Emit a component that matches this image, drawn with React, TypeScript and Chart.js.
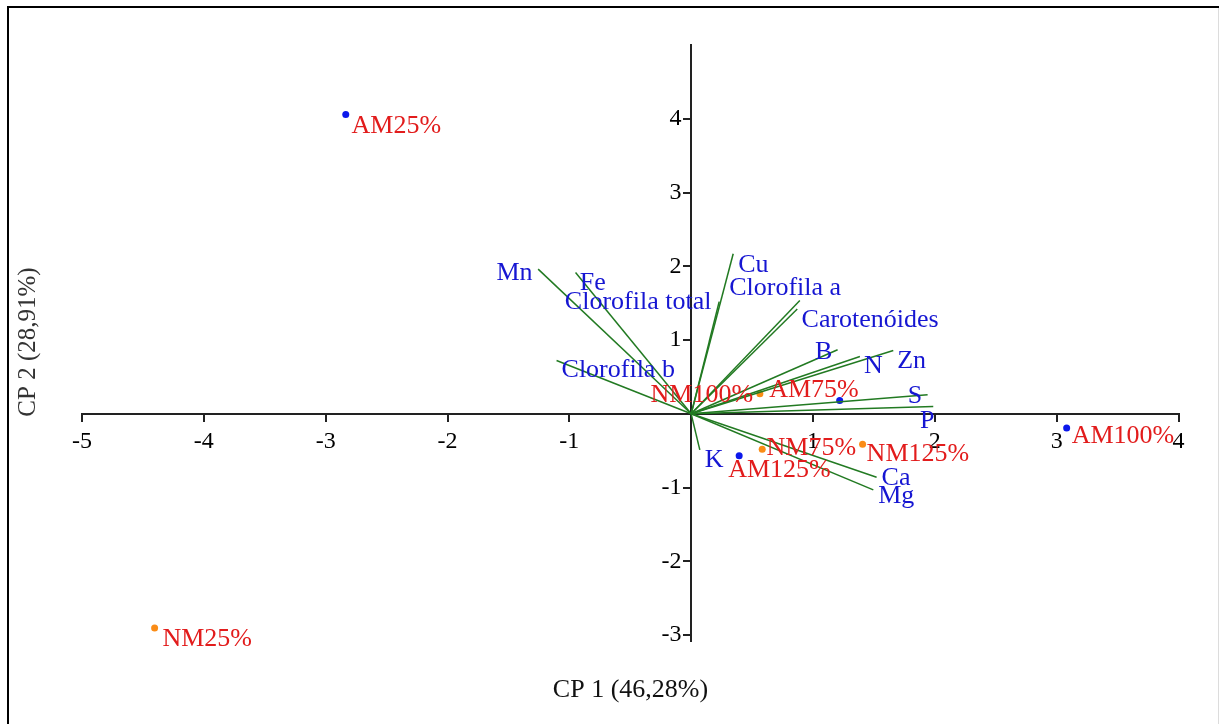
import { useEffect, useRef } from 'react';
import { Chart, registerables } from 'chart.js';

Chart.register(...registerables);

// ---- Data ----
const variables = ['Mn', 'Fe', 'Clorofila total', 'Cu', 'Clorofila a', 'Carotenóides', 'B', 'N', 'Zn', 'S', 'P', 'Clorofila b', 'K', 'Ca', 'Mg'];
const loadingX = [-1.256, -0.949, 0.23, 0.345, 0.892, 0.871, 1.202, 1.385, 1.659, 1.941, 1.987, -1.105, 0.071, 1.522, 1.495];
const loadingY = [1.962, 1.917, 1.52, 2.17, 1.537, 1.42, 0.868, 0.778, 0.859, 0.258, 0.1, 0.723, -0.488, -0.859, -1.031];
const varLabelX = [-1.598, -0.914, -1.037, 0.386, 0.312, 0.906, 1.016, 1.418, 1.691, 1.777, 1.878, -1.064, 0.112, 1.563, 1.535];
const varLabelY = [1.908, 1.772, 1.509, 2.02, 1.704, 1.274, 0.831, 0.641, 0.709, 0.235, -0.104, 0.587, -0.624, -0.872, -1.121];

const treatments = ['AM25%', 'NM25%', 'AM100%', 'NM100%', 'AM75%', 'NM75%', 'NM125%', 'AM125%'];
const groups = ['AM', 'NM', 'AM', 'NM', 'AM', 'NM', 'NM', 'AM'];
const scoreX = [-2.835, -4.404, 3.082, 0.564, 1.219, 0.583, 1.407, 0.394];
const scoreY = [4.057, -2.904, -0.194, 0.271, 0.18, -0.479, -0.411, -0.57];
const trtLabelX = [-2.788, -4.34, 3.123, -0.333, 0.64, 0.619, 1.44, 0.304];
const trtLabelY = [3.895, -3.055, -0.308, 0.258, 0.325, -0.465, -0.542, -0.759];

const xTicks = [-5, -4, -3, -2, -1, 1, 2, 3, 4];
const yTicks = [-3, -2, -1, 1, 2, 3, 4];
const xTitle = 'CP 1 (46,28%)';
const yTitle = 'CP 2 (28,91%)';

const FONT = "'Liberation Serif', 'Times New Roman', serif";
const GREEN = 'rgb(34,122,34)';
const BLUE_TXT = 'rgb(22,22,210)';
const RED_TXT = 'rgb(226,28,28)';
const AXIS = '#222';

const decorPlugin = {
  id: 'decor',
  beforeDraw(chart: any) {
    const ctx = chart.ctx;
    ctx.save();
    ctx.fillStyle = '#fff';
    ctx.fillRect(0, 0, chart.width, chart.height);
    ctx.fillStyle = '#000';
    ctx.fillRect(7, 6, 2, chart.height - 6);
    ctx.fillRect(7, 6, chart.width - 7, 2);
    ctx.fillStyle = '#dcdcdc';
    ctx.fillRect(chart.width - 1, 8, 1, chart.height - 8);
    ctx.restore();
  },
  afterDatasetsDraw(chart: any) {
    const ctx = chart.ctx;
    const xs = chart.scales.x;
    const ys = chart.scales.y;
    ctx.save();
    ctx.textAlign = 'left';
    ctx.textBaseline = 'middle';
    ctx.font = `26px ${FONT}`;
    ctx.fillStyle = BLUE_TXT;
    variables.forEach((v, i) => {
      ctx.fillText(v, xs.getPixelForValue(varLabelX[i]), ys.getPixelForValue(varLabelY[i]));
    });
    ctx.fillStyle = RED_TXT;
    treatments.forEach((t, i) => {
      ctx.fillText(t, xs.getPixelForValue(trtLabelX[i]), ys.getPixelForValue(trtLabelY[i]));
    });
    // axis titles
    ctx.fillStyle = '#111';
    ctx.textAlign = 'center';
    ctx.fillText(xTitle, 630.5, 690);
    ctx.font = `25px ${FONT}`;
    ctx.translate(28, 342);
    ctx.rotate(-Math.PI / 2);
    ctx.fillStyle = '#333';
    ctx.fillText(yTitle, 0, 0);
    ctx.restore();
  },
};

export default function App() {
  const ref = useRef<HTMLCanvasElement>(null);
  useEffect(() => {
    const vectorSets = variables.map((v, i) => ({
      label: v,
      data: [{ x: 0, y: 0 }, { x: loadingX[i], y: loadingY[i] }],
      showLine: true,
      borderColor: GREEN,
      borderWidth: 1.5,
      pointRadius: 0,
      fill: false,
    }));
    const scoreSet = {
      label: 'Tratamentos',
      data: treatments.map((t, i) => ({ x: scoreX[i], y: scoreY[i] })),
      showLine: false,
      pointRadius: 3.5,
      pointBorderWidth: 0,
      pointBackgroundColor: groups.map((g) => (g === 'AM' ? 'rgb(12,24,235)' : 'rgb(250,140,22)')),
      pointBorderColor: groups.map((g) => (g === 'AM' ? 'rgb(12,24,235)' : 'rgb(250,140,22)')),
    };
    const chart = new Chart(ref.current!, {
      type: 'scatter',
      data: { datasets: [...vectorSets, scoreSet] as any },
      plugins: [decorPlugin],
      options: {
        animation: false,
        responsive: false,
        devicePixelRatio: 1,
        layout: { padding: { left: 82, right: 40.5, top: 45, bottom: 83 } },
        plugins: { legend: { display: false }, tooltip: { enabled: false } },
        scales: {
          x: {
            type: 'linear',
            min: -5,
            max: 4,
            position: { y: 0 } as any,
            afterFit: (s: any) => { s.height = 0; },
            afterBuildTicks: (s: any) => { s.ticks = xTicks.map((v) => ({ value: v })); },
            border: { display: true, color: AXIS, width: 2 },
            grid: { drawOnChartArea: false, drawTicks: true, tickLength: 7, color: AXIS, lineWidth: 2 },
            ticks: {
              autoSkip: false,
              maxRotation: 0,
              padding: 6,
              color: '#000',
              font: { family: FONT, size: 24 },
              callback: (v: any) => String(v),
            },
          },
          y: {
            type: 'linear',
            min: -3.08,
            max: 5,
            position: { x: 0 } as any,
            afterFit: (s: any) => { s.width = 0; },
            afterBuildTicks: (s: any) => { s.ticks = yTicks.map((v) => ({ value: v })); },
            border: { display: true, color: AXIS, width: 2 },
            grid: { drawOnChartArea: false, drawTicks: true, tickLength: 7, color: AXIS, lineWidth: 2 },
            ticks: {
              autoSkip: false,
              color: '#000',
              font: { family: FONT, size: 24 },
              callback: (v: any) => String(v) + '\u2009\u2009',
            },
          },
        },
      },
    });
    return () => chart.destroy();
  }, []);
  return (
    <canvas
      ref={ref}
      width={1219}
      height={724}
      style={{ position: 'fixed', left: 0, top: 0, width: 1219, height: 724 }}
    />
  );
}
